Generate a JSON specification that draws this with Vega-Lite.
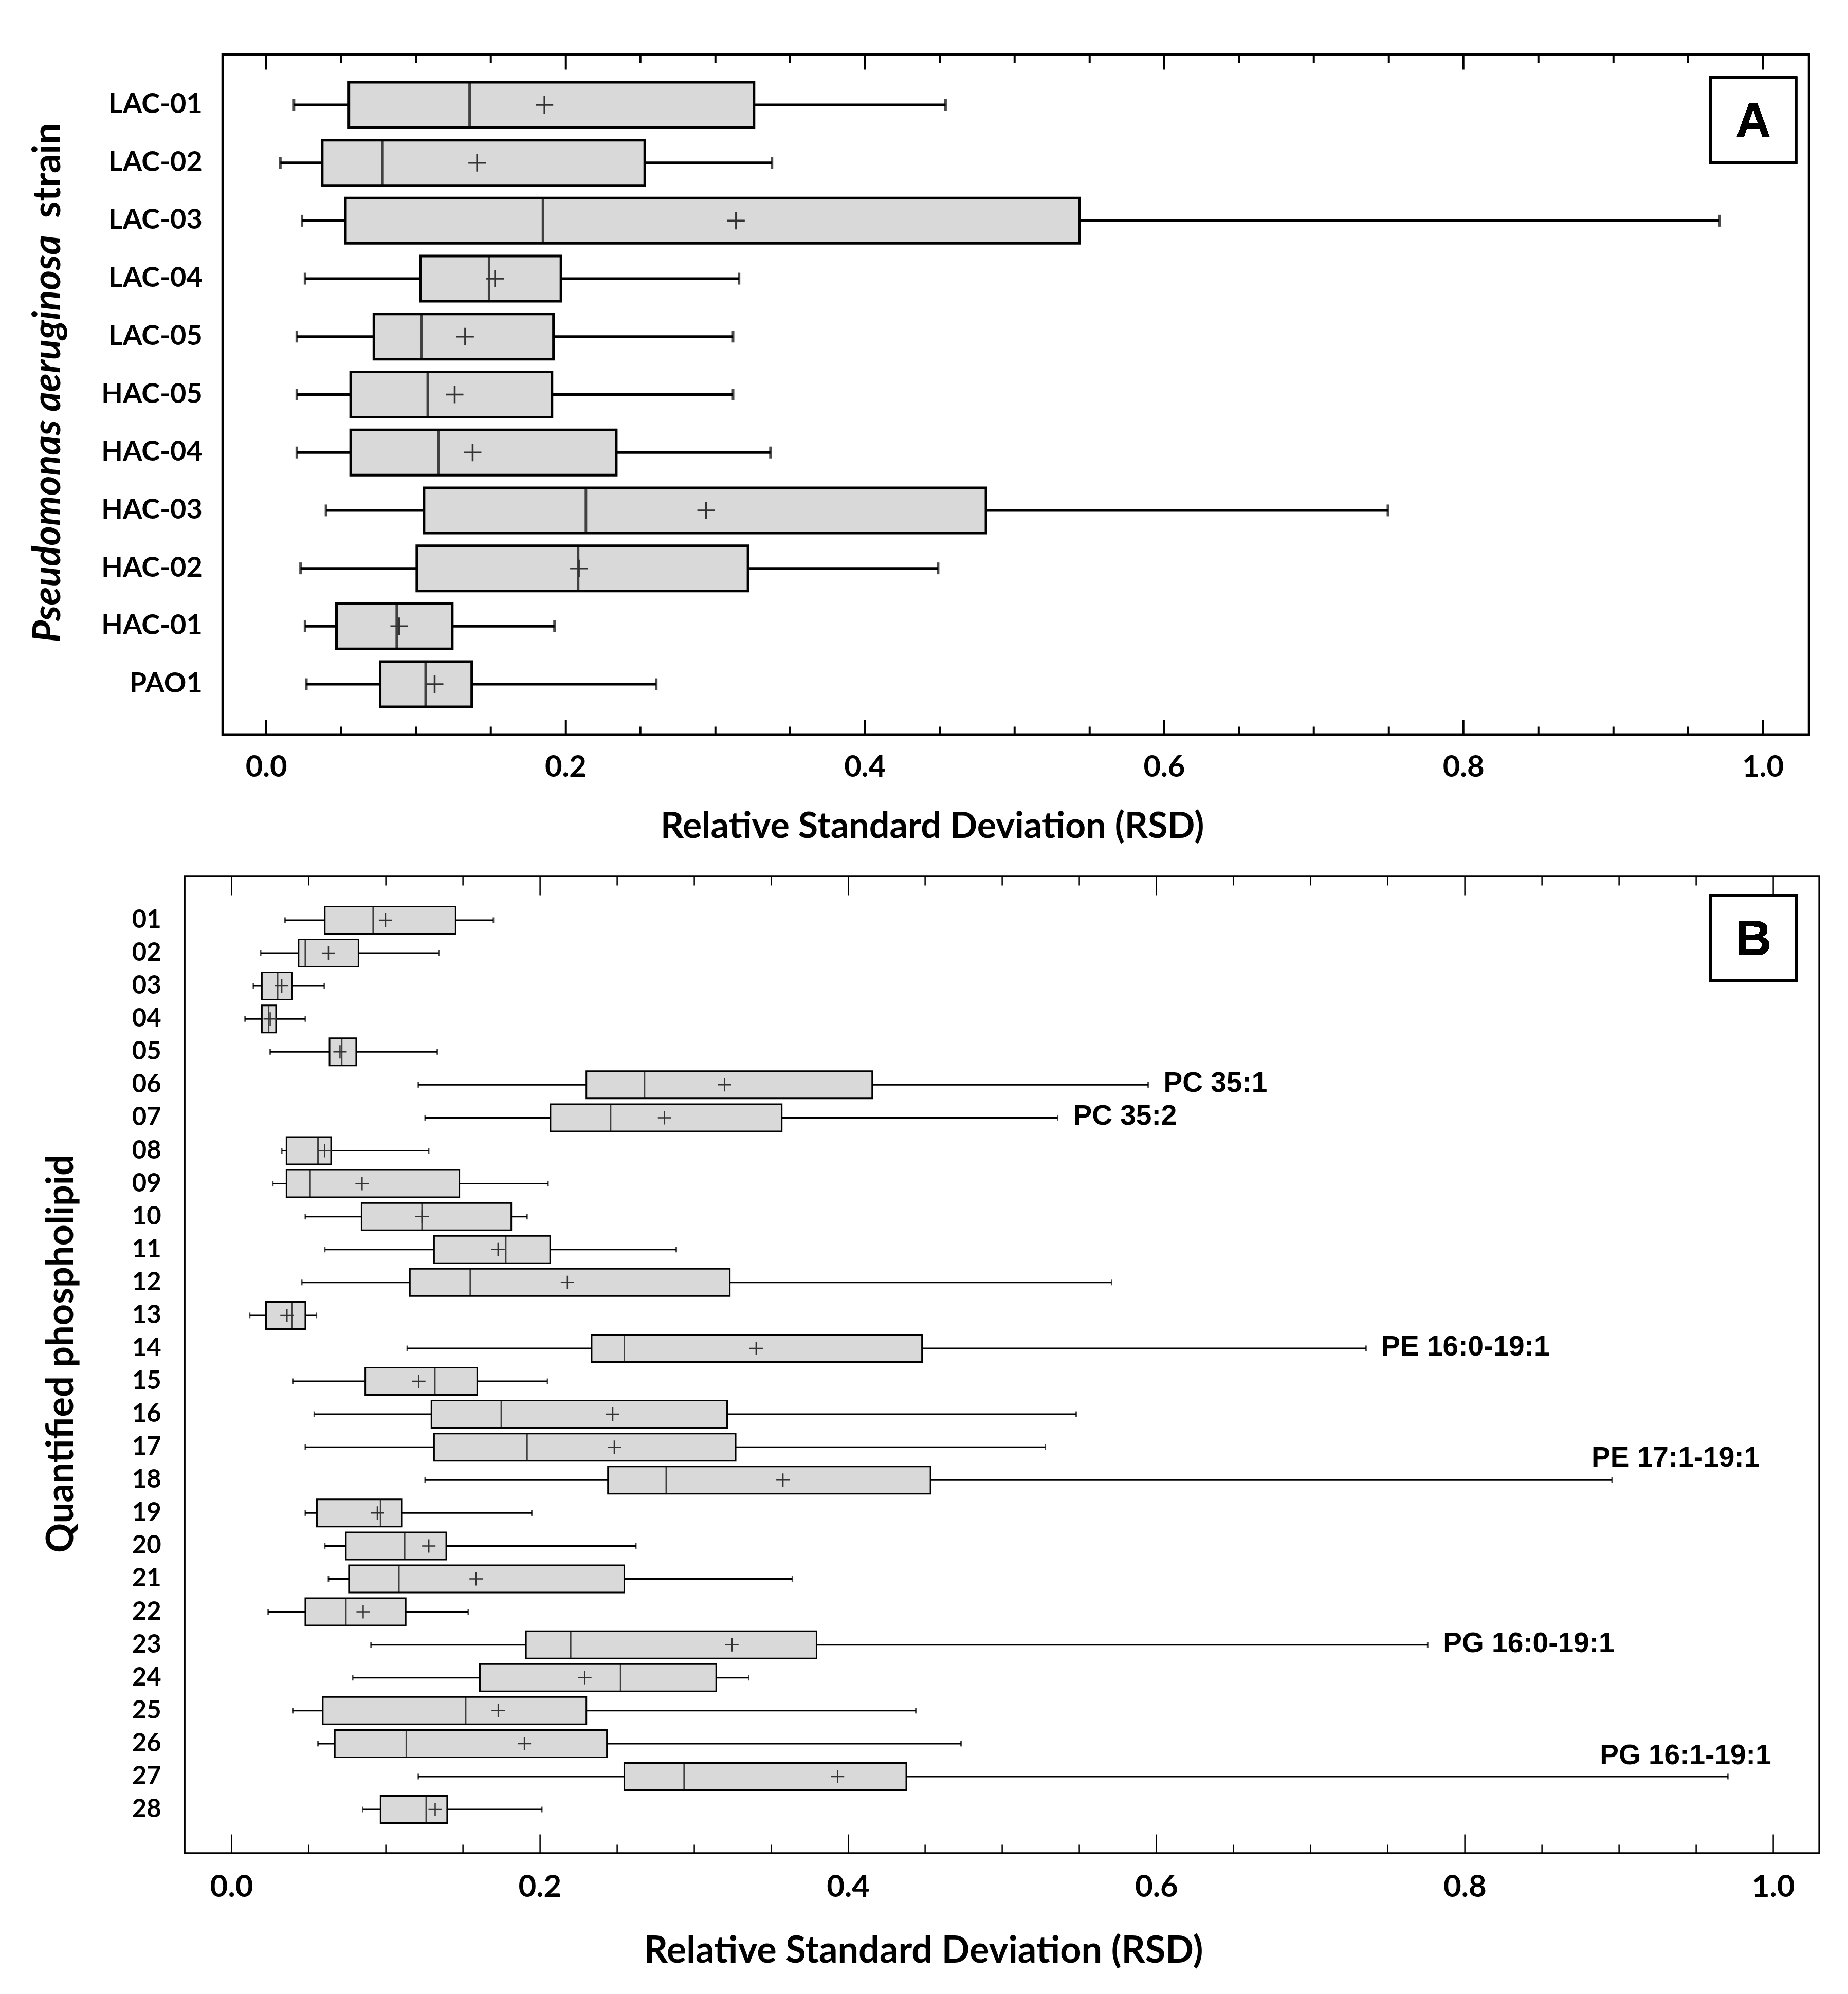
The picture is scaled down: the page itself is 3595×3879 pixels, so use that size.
{
  "$schema": "https://vega.github.io/schema/vega-lite/v6.json",
  "background": "white",
  "padding": {"left": 54, "top": 101, "right": 0, "bottom": 0},
  "autosize": {"type": "pad"},
  "spacing": 56,
  "center": true,
  "config": {
    "axis": {"grid": false, "domain": false, "labelFlush": false, "labelOverlap": false, "labelBound": false, "labelLimit": 0, "labelColor": "black", "titleColor": "black", "tickColor": "black"},
    "view": {"stroke": "black"}
  },
  "datasets": {
    "strains": [
      {"id": "LAC-01", "low": 0.0186, "q1": 0.0553, "med": 0.136, "mean": 0.186, "q3": 0.326, "high": 0.454},
      {"id": "LAC-02", "low": 0.0095, "q1": 0.0375, "med": 0.0778, "mean": 0.141, "q3": 0.253, "high": 0.338},
      {"id": "LAC-03", "low": 0.024, "q1": 0.053, "med": 0.185, "mean": 0.314, "q3": 0.5435, "high": 0.971},
      {"id": "LAC-04", "low": 0.026, "q1": 0.103, "med": 0.149, "mean": 0.153, "q3": 0.197, "high": 0.316},
      {"id": "LAC-05", "low": 0.0205, "q1": 0.072, "med": 0.104, "mean": 0.133, "q3": 0.192, "high": 0.312},
      {"id": "HAC-05", "low": 0.0205, "q1": 0.0565, "med": 0.108, "mean": 0.126, "q3": 0.191, "high": 0.312},
      {"id": "HAC-04", "low": 0.0205, "q1": 0.0565, "med": 0.115, "mean": 0.138, "q3": 0.234, "high": 0.337},
      {"id": "HAC-03", "low": 0.040, "q1": 0.1055, "med": 0.2137, "mean": 0.294, "q3": 0.481, "high": 0.7496},
      {"id": "HAC-02", "low": 0.023, "q1": 0.1007, "med": 0.2085, "mean": 0.209, "q3": 0.322, "high": 0.449},
      {"id": "HAC-01", "low": 0.026, "q1": 0.047, "med": 0.0873, "mean": 0.0889, "q3": 0.1244, "high": 0.1927},
      {"id": "PAO1", "low": 0.0269, "q1": 0.0762, "med": 0.1066, "mean": 0.1126, "q3": 0.1374, "high": 0.2607}
    ],
    "lipids": [
      {"id": "01", "low": 0.0348, "q1": 0.0606, "med": 0.092, "mean": 0.100, "q3": 0.1455, "high": 0.170},
      {"id": "02", "low": 0.019, "q1": 0.0436, "med": 0.048, "mean": 0.063, "q3": 0.0825, "high": 0.1346},
      {"id": "03", "low": 0.0143, "q1": 0.0198, "med": 0.030, "mean": 0.0327, "q3": 0.0395, "high": 0.0603},
      {"id": "04", "low": 0.0089, "q1": 0.0198, "med": 0.0242, "mean": 0.0252, "q3": 0.029, "high": 0.048},
      {"id": "05", "low": 0.0252, "q1": 0.0637, "med": 0.0716, "mean": 0.0705, "q3": 0.081, "high": 0.1336},
      {"id": "06", "low": 0.1213, "q1": 0.2303, "med": 0.268, "mean": 0.320, "q3": 0.4157, "high": 0.5947, "label": "PC 35:1"},
      {"id": "07", "low": 0.1257, "q1": 0.207, "med": 0.246, "mean": 0.281, "q3": 0.357, "high": 0.536, "label": "PC 35:2"},
      {"id": "08", "low": 0.0327, "q1": 0.0358, "med": 0.0562, "mean": 0.0606, "q3": 0.0647, "high": 0.128},
      {"id": "09", "low": 0.0269, "q1": 0.0358, "med": 0.0511, "mean": 0.0848, "q3": 0.1479, "high": 0.2054},
      {"id": "10", "low": 0.048, "q1": 0.0845, "med": 0.1237, "mean": 0.1237, "q3": 0.1816, "high": 0.1918},
      {"id": "11", "low": 0.0606, "q1": 0.1315, "med": 0.178, "mean": 0.173, "q3": 0.2068, "high": 0.2886},
      {"id": "12", "low": 0.0457, "q1": 0.1158, "med": 0.155, "mean": 0.218, "q3": 0.3233, "high": 0.571},
      {"id": "13", "low": 0.0119, "q1": 0.0225, "med": 0.0395, "mean": 0.0361, "q3": 0.048, "high": 0.0552},
      {"id": "14", "low": 0.1141, "q1": 0.2337, "med": 0.2549, "mean": 0.3404, "q3": 0.448, "high": 0.736, "label": "PE 16:0-19:1"},
      {"id": "15", "low": 0.0399, "q1": 0.0869, "med": 0.132, "mean": 0.1216, "q3": 0.1595, "high": 0.2051},
      {"id": "16", "low": 0.0538, "q1": 0.1298, "med": 0.1751, "mean": 0.2474, "q3": 0.3216, "high": 0.548},
      {"id": "17", "low": 0.048, "q1": 0.1315, "med": 0.1918, "mean": 0.2484, "q3": 0.3271, "high": 0.528},
      {"id": "18", "low": 0.1257, "q1": 0.2443, "med": 0.2821, "mean": 0.3578, "q3": 0.4535, "high": 0.8956, "label": "PE 17:1-19:1"},
      {"id": "19", "low": 0.048, "q1": 0.0555, "med": 0.0968, "mean": 0.0947, "q3": 0.1107, "high": 0.1949},
      {"id": "20", "low": 0.0606, "q1": 0.0743, "med": 0.1124, "mean": 0.1281, "q3": 0.1394, "high": 0.2624},
      {"id": "21", "low": 0.063, "q1": 0.0763, "med": 0.1087, "mean": 0.1588, "q3": 0.2549, "high": 0.3639},
      {"id": "22", "low": 0.0239, "q1": 0.048, "med": 0.0743, "mean": 0.0855, "q3": 0.1131, "high": 0.1537},
      {"id": "23", "low": 0.0906, "q1": 0.1911, "med": 0.2201, "mean": 0.3247, "q3": 0.3796, "high": 0.776, "label": "PG 16:0-19:1"},
      {"id": "24", "low": 0.0787, "q1": 0.1612, "med": 0.2525, "mean": 0.2293, "q3": 0.3145, "high": 0.3356},
      {"id": "25", "low": 0.0399, "q1": 0.0593, "med": 0.152, "mean": 0.1731, "q3": 0.2303, "high": 0.444},
      {"id": "26", "low": 0.0562, "q1": 0.0671, "med": 0.1135, "mean": 0.1901, "q3": 0.2436, "high": 0.4733},
      {"id": "27", "low": 0.1213, "q1": 0.2549, "med": 0.2937, "mean": 0.3932, "q3": 0.4378, "high": 0.9707, "label": "PG 16:1-19:1"},
      {"id": "28", "low": 0.0852, "q1": 0.0968, "med": 0.1264, "mean": 0.1322, "q3": 0.14, "high": 0.2014}
    ]
  },
  "vconcat": [
    {
      "width": 3086,
      "height": 1323,
      "view": {"stroke": "black", "strokeWidth": 5},
      "data": {"name": "strains"},
      "layer": [
        {
          "mark": {"type": "rule", "color": "black", "strokeWidth": 5},
          "encoding": {
            "x": {
              "field": "low", "type": "quantitative",
              "scale": {"domain": [-0.029, 1.031], "nice": false, "zero": false},
              "axis": {
                "orient": "bottom",
                "values": [0, 0.05, 0.1, 0.15, 0.2, 0.25, 0.3, 0.35, 0.4, 0.45, 0.5, 0.55, 0.6, 0.65, 0.7, 0.75, 0.8, 0.85, 0.9, 0.95, 1.0],
                "labelExpr": "round(datum.value*100) % 20 === 0 ? format(datum.value, '.1f') : ''",
                "tickSize": {"condition": {"test": "round(datum.value*100) % 20 === 0", "value": -29}, "value": -16},
                "tickWidth": 4,
                "labelFont": "Lato", "labelFontSize": 58, "labelFontWeight": "bold", "labelPadding": 64,
                "title": "Relative Standard Deviation (RSD)",
                "titleFont": "Lato", "titleFontSize": 70, "titleFontWeight": "bold",
                "titleX": 1380, "titleY": 179, "titleBaseline": "middle", "titleAlign": "center"
              }
            },
            "x2": {"field": "high"},
            "y": {
              "field": "id", "type": "nominal",
              "scale": {"domain": ["LAC-01", "LAC-02", "LAC-03", "LAC-04", "LAC-05", "HAC-05", "HAC-04", "HAC-03", "HAC-02", "HAC-01", "PAO1"], "paddingInner": 0, "paddingOuter": 0.369},
              "axis": {
                "orient": "left", "ticks": false, "labelPadding": 40,
                "labelFont": "Lato", "labelFontSize": 54, "labelFontWeight": "bold",
                "title": "Pseudomonas aeruginosa",
                "titleFont": "Lato", "titleFontSize": 74, "titleFontWeight": "bold", "titleFontStyle": "italic",
                "titleX": -339, "titleY": 747, "titleBaseline": "middle", "titleAlign": "center", "titleAngle": 270
              }
            }
          }
        },
        {
          "mark": {"type": "tick", "color": "black", "size": 23, "thickness": 5},
          "encoding": {
            "x": {"field": "low", "type": "quantitative", "axis": null},
            "y": {"field": "id", "type": "nominal", "axis": null}
          }
        },
        {
          "mark": {"type": "tick", "color": "black", "size": 23, "thickness": 5},
          "encoding": {
            "x": {"field": "high", "type": "quantitative", "axis": null},
            "y": {"field": "id", "type": "nominal", "axis": null}
          }
        },
        {
          "mark": {"type": "bar", "height": 88, "fill": "#d9d9d9", "stroke": "black", "strokeWidth": 5},
          "encoding": {
            "x": {
              "field": "q1", "type": "quantitative",
              "axis": {
                "orient": "top", "labels": false, "title": null,
                "values": [0, 0.05, 0.1, 0.15, 0.2, 0.25, 0.3, 0.35, 0.4, 0.45, 0.5, 0.55, 0.6, 0.65, 0.7, 0.75, 0.8, 0.85, 0.9, 0.95, 1.0],
                "tickSize": {"condition": {"test": "round(datum.value*100) % 20 === 0", "value": -29}, "value": -16},
                "tickWidth": 4
              }
            },
            "x2": {"field": "q3"},
            "y": {
              "field": "id", "type": "nominal",
              "axis": {
                "orient": "left", "labels": false, "ticks": false,
                "title": "strain",
                "titleFont": "Lato", "titleFontSize": 74, "titleFontWeight": "bold",
                "titleX": -339, "titleY": 225, "titleBaseline": "middle", "titleAlign": "center", "titleAngle": 270
              }
            }
          }
        },
        {
          "mark": {"type": "tick", "color": "black", "size": 88, "thickness": 5},
          "encoding": {
            "x": {"field": "med", "type": "quantitative", "axis": null},
            "y": {"field": "id", "type": "nominal", "axis": null}
          }
        },
        {
          "mark": {"type": "point", "shape": "M-1,0H1M0,-1V1", "size": 1156, "filled": false, "stroke": "#333333", "strokeWidth": 3.5, "opacity": 1},
          "encoding": {
            "x": {"field": "mean", "type": "quantitative", "axis": null},
            "y": {"field": "id", "type": "nominal", "axis": null}
          }
        },
        {
          "mark": {"type": "point", "shape": "square", "size": 27556, "filled": false, "stroke": "black", "strokeWidth": 5, "opacity": 1, "yOffset": 30},
          "encoding": {
            "x": {"datum": 0.9937, "type": "quantitative", "axis": null},
            "y": {"datum": "LAC-01", "type": "nominal", "axis": null}
          }
        },
        {
          "mark": {"type": "text", "text": "A", "font": "Liberation Sans", "fontWeight": "bold", "fontSize": 95, "color": "black", "align": "center", "baseline": "middle", "yOffset": 30, "dy": 4},
          "encoding": {
            "x": {"datum": 0.9937, "type": "quantitative", "axis": null},
            "y": {"datum": "LAC-01", "type": "nominal", "axis": null}
          }
        }
      ],
      "resolve": {"axis": {"x": "independent", "y": "independent"}}
    },
    {
      "width": 3180,
      "height": 1900,
      "view": {"stroke": "black", "strokeWidth": 3.5},
      "data": {"name": "lipids"},
      "layer": [
        {
          "mark": {"type": "rule", "color": "black", "strokeWidth": 3},
          "encoding": {
            "x": {
              "field": "low", "type": "quantitative",
              "scale": {"domain": [-0.0303, 1.030], "nice": false, "zero": false},
              "axis": {
                "orient": "bottom",
                "values": [0, 0.05, 0.1, 0.15, 0.2, 0.25, 0.3, 0.35, 0.4, 0.45, 0.5, 0.55, 0.6, 0.65, 0.7, 0.75, 0.8, 0.85, 0.9, 0.95, 1.0],
                "labelExpr": "round(datum.value*100) % 20 === 0 ? format(datum.value, '.1f') : ''",
                "tickSize": {"condition": {"test": "round(datum.value*100) % 20 === 0", "value": -37}, "value": -17},
                "tickWidth": 2.5,
                "labelFont": "Lato", "labelFontSize": 60, "labelFontWeight": "bold", "labelPadding": 74,
                "title": "Relative Standard Deviation (RSD)",
                "titleFont": "Lato", "titleFontSize": 72, "titleFontWeight": "bold",
                "titleX": 1437, "titleY": 190, "titleBaseline": "middle", "titleAlign": "center"
              }
            },
            "x2": {"field": "high"},
            "y": {
              "field": "id", "type": "nominal",
              "scale": {"domain": ["01","02","03","04","05","06","07","08","09","10","11","12","13","14","15","16","17","18","19","20","21","22","23","24","25","26","27","28"], "paddingInner": 0, "paddingOuter": 0.826},
              "axis": {
                "orient": "left", "ticks": false, "labelPadding": 46,
                "labelFont": "Lato", "labelFontSize": 49, "labelFontWeight": "bold",
                "title": "Quantified phospholipid",
                "titleFont": "Lato", "titleFontSize": 72, "titleFontWeight": "bold",
                "titleX": -240, "titleY": 928, "titleBaseline": "middle", "titleAlign": "center", "titleAngle": 270
              }
            }
          }
        },
        {
          "mark": {"type": "tick", "color": "black", "size": 11, "thickness": 3},
          "encoding": {
            "x": {"field": "low", "type": "quantitative", "axis": null},
            "y": {"field": "id", "type": "nominal", "axis": null}
          }
        },
        {
          "mark": {"type": "tick", "color": "black", "size": 11, "thickness": 3},
          "encoding": {
            "x": {"field": "high", "type": "quantitative", "axis": null},
            "y": {"field": "id", "type": "nominal", "axis": null}
          }
        },
        {
          "mark": {"type": "bar", "height": 53, "fill": "#d9d9d9", "stroke": "black", "strokeWidth": 3},
          "encoding": {
            "x": {
              "field": "q1", "type": "quantitative",
              "axis": {
                "orient": "top", "labels": false, "title": null,
                "values": [0, 0.05, 0.1, 0.15, 0.2, 0.25, 0.3, 0.35, 0.4, 0.45, 0.5, 0.55, 0.6, 0.65, 0.7, 0.75, 0.8, 0.85, 0.9, 0.95, 1.0],
                "tickSize": {"condition": {"test": "round(datum.value*100) % 20 === 0", "value": -37}, "value": -17},
                "tickWidth": 2.5
              }
            },
            "x2": {"field": "q3"},
            "y": {
              "field": "id", "type": "nominal",
              "axis": {
                "orient": "right", "labels": false, "title": null,
                "ticks": true, "tickSize": 55, "tickOpacity": 0
              }
            }
          }
        },
        {
          "mark": {"type": "tick", "color": "black", "size": 53, "thickness": 3},
          "encoding": {
            "x": {"field": "med", "type": "quantitative", "axis": null},
            "y": {"field": "id", "type": "nominal", "axis": null}
          }
        },
        {
          "mark": {"type": "point", "shape": "M-1,0H1M0,-1V1", "size": 676, "filled": false, "stroke": "#333333", "strokeWidth": 2.5, "opacity": 1},
          "encoding": {
            "x": {"field": "mean", "type": "quantitative", "axis": null},
            "y": {"field": "id", "type": "nominal", "axis": null}
          }
        },
        {
          "transform": [{"filter": "indexof(['06','07','14','23'], datum.id) >= 0"}],
          "mark": {"type": "text", "font": "Liberation Sans", "fontWeight": "bold", "fontSize": 55, "color": "black", "align": "left", "baseline": "middle", "dx": 30, "dy": -3},
          "encoding": {
            "x": {"field": "high", "type": "quantitative", "axis": null},
            "y": {"field": "id", "type": "nominal", "axis": null},
            "text": {"field": "label"}
          }
        },
        {
          "transform": [{"filter": "datum.id === '18'"}],
          "mark": {"type": "text", "font": "Liberation Sans", "fontWeight": "bold", "fontSize": 55, "color": "black", "align": "left", "baseline": "middle", "dx": -40, "dy": -43},
          "encoding": {
            "x": {"field": "high", "type": "quantitative", "axis": null},
            "y": {"field": "id", "type": "nominal", "axis": null},
            "text": {"field": "label"}
          }
        },
        {
          "transform": [{"filter": "datum.id === '27'"}],
          "mark": {"type": "text", "font": "Liberation Sans", "fontWeight": "bold", "fontSize": 55, "color": "black", "align": "left", "baseline": "middle", "dx": -249, "dy": -41},
          "encoding": {
            "x": {"field": "high", "type": "quantitative", "axis": null},
            "y": {"field": "id", "type": "nominal", "axis": null},
            "text": {"field": "label"}
          }
        },
        {
          "mark": {"type": "point", "shape": "square", "size": 27556, "filled": false, "stroke": "black", "strokeWidth": 5, "opacity": 1, "yOffset": 35},
          "encoding": {
            "x": {"datum": 0.9873, "type": "quantitative", "axis": null},
            "y": {"datum": "01", "type": "nominal", "axis": null}
          }
        },
        {
          "mark": {"type": "text", "text": "B", "font": "Liberation Sans", "fontWeight": "bold", "fontSize": 97, "color": "black", "align": "center", "baseline": "middle", "yOffset": 35, "dy": 4},
          "encoding": {
            "x": {"datum": 0.9873, "type": "quantitative", "axis": null},
            "y": {"datum": "01", "type": "nominal", "axis": null}
          }
        }
      ],
      "resolve": {"axis": {"x": "independent", "y": "independent"}}
    }
  ]
}
